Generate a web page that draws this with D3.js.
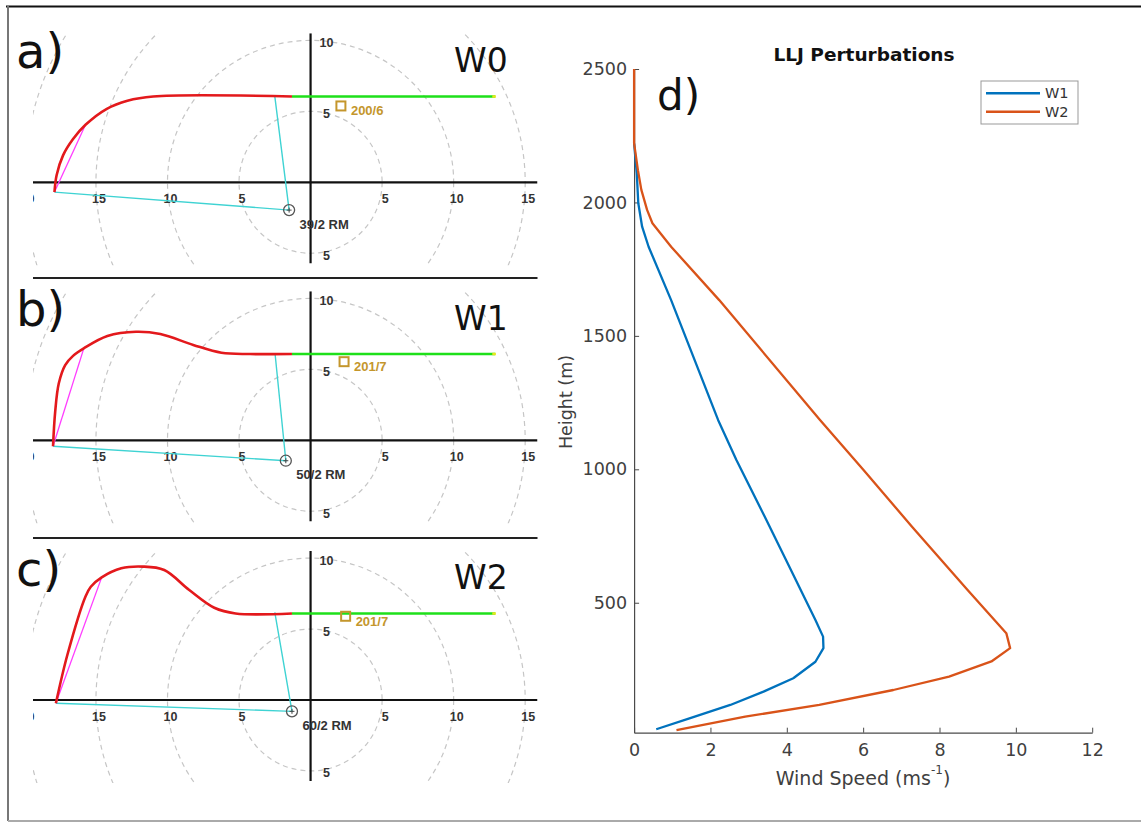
<!DOCTYPE html>
<html>
<head>
<meta charset="utf-8">
<script src="https://cdn.jsdelivr.net/npm/d3@7"></script>
<style>
body { margin: 0; background: #fff; }
svg { display: block; }
.hodo text { font-family: "Liberation Sans", Arial, sans-serif; font-weight: bold; }
.perfil text { font-family: "DejaVu Sans", sans-serif; }
</style>
</head>
<body>
<svg id="fig" width="1141" height="822"></svg>
<script>
// ---- hodografos (u, v en m/s) ----
const hodoNames = ['W0', 'W1', 'W2'];
const panelTags = ['a)', 'b)', 'c)'];
const rings = [5, 10, 15, 20, 25];
const xTicks = [-20, -15, -10, -5, 5, 10, 15];
const yTicks = [10, 5, -5];

const redW0 = [[-17.9,-0.69],[-17.75,0.5],[-17.3,1.9],[-16.6,3.05],[-15.73,4.05],[-14.24,5.18],[-12.8,5.75],[-11.0,6.05],[-1.3,6.05]];
const redW1 = [[-18.0,-0.42],[-17.85,2.0],[-17.6,4.0],[-17.15,5.3],[-16.6,5.95],[-15.85,6.48],[-14.2,7.35],[-12.2,7.65],[-10.5,7.49],[-8.2,6.72],[-6.23,6.17],[-4.23,6.08],[-1.3,6.08]];
const redW2 = [[-17.8,-0.23],[-17.0,3.17],[-15.73,7.3],[-15.36,7.98],[-14.6,8.64],[-13.23,9.28],[-11.73,9.4],[-10.23,9.16],[-8.48,7.75],[-6.73,6.5],[-5.24,6.1],[-1.3,6.1]];
const greenW0 = [[-1.3,6.05],[12.9,6.05]];
const greenW1 = [[-1.3,6.08],[12.9,6.08]];
const greenW2 = [[-1.3,6.1],[12.9,6.1]];
const magentaTop = [[-15.73,4.05],[-15.85,6.48],[-14.6,8.64]];
const cyanTop = [[-2.5,6.05],[-2.48,6.08],[-2.5,6.17]];
const rmMotion = [[-1.5,-1.96],[-1.73,-1.44],[-1.3,-0.8]];
const rmLabels = ['39/2 RM', '50/2 RM', '60/2 RM'];
const meanWind = [[2.12,5.38],[2.34,5.54],[2.45,5.9]];
const meanLabels = ['200/6', '201/7', '201/7'];

// ---- perfiles LLJ ----
const w1Speed  = [0, 0.07, 0.11, 0.21, 0.38, 0.97, 2.2, 2.68, 3.42, 3.98, 4.75, 4.95, 4.96, 4.75, 4.17, 3.39, 2.52, 1.45, 0.58];
const w1Height = [2221, 2109, 1997, 1909, 1834, 1634, 1185, 1035, 823, 660, 435, 373, 330, 279, 217, 167, 117, 67, 26];
const w2Speed  = [0, 0, 0.1, 0.19, 0.34, 0.48, 0.97, 2.23, 4.87, 6.01, 7.28, 8.73, 9.75, 9.85, 9.36, 8.25, 6.79, 4.85, 2.91, 1.11];
const w2Height = [2500, 2221, 2121, 2047, 1972, 1922, 1834, 1634, 1185, 997, 785, 549, 386, 330, 280, 223, 173, 117, 73, 23];
const speedTicks = [0, 2, 4, 6, 8, 10, 12];
const heightTicks = [500, 1000, 1500, 2000, 2500];
const serieNames = ['W1', 'W2'];

const svg = d3.select('#fig');
svg.append('rect').attr('width', 1141).attr('height', 822).attr('fill', '#fff');

// marco
svg.append('line').attr('x1', 6).attr('x2', 1141).attr('y1', 6.5).attr('y2', 6.5)
    .attr('stroke', '#111').attr('stroke-width', 2);
svg.append('line').attr('x1', 8).attr('x2', 8).attr('y1', 6).attr('y2', 821)
    .attr('stroke', '#777').attr('stroke-width', 2);
svg.append('line').attr('x1', 8).attr('x2', 1141).attr('y1', 821).attr('y2', 821)
    .attr('stroke', '#aaa').attr('stroke-width', 2);

const panelAxisY = [182.3, 440.3, 700];
const reds = [redW0, redW1, redW2];
const greens = [greenW0, greenW1, greenW2];

const hx = d3.scaleLinear().domain([-19.4, 15.86]).range([33, 537.5]);

function hodografo(i) {
    const y0 = panelAxisY[i];
    const hy = d3.scaleLinear().domain([-5.85, 10.5]).range([y0 + 83, y0 - 149]);
    const linea = d3.line().x(d => hx(d[0])).y(d => hy(d[1]));
    const suave = d3.line().x(d => hx(d[0])).y(d => hy(d[1])).curve(d3.curveCatmullRom.alpha(0.5));

    svg.append('clipPath').attr('id', 'clip' + i)
        .append('rect')
        .attr('x', 33).attr('y', y0 - 149).attr('width', 504.5).attr('height', 232);

    const g = svg.append('g').attr('class', 'hodo');
    const c = g.append('g').attr('clip-path', `url(#clip${i})`);

    c.selectAll('.anillo')
        .data(rings)
        .join('ellipse')
        .attr('class', 'anillo')
        .attr('cx', hx(0)).attr('cy', hy(0))
        .attr('rx', d => hx(d) - hx(0))
        .attr('ry', d => hy(0) - hy(d))
        .attr('fill', 'none')
        .attr('stroke', '#c6c6c6')
        .attr('stroke-width', 1.2)
        .attr('stroke-dasharray', '5,4');

    c.append('line')
        .attr('x1', 33).attr('x2', 537.5).attr('y1', hy(0)).attr('y2', hy(0))
        .attr('stroke', '#111').attr('stroke-width', 2.2);
    c.append('line')
        .attr('x1', hx(0)).attr('x2', hx(0)).attr('y1', y0 - 149).attr('y2', y0 + 81)
        .attr('stroke', '#111').attr('stroke-width', 2.2);

    c.selectAll('.xlab')
        .data(xTicks)
        .join('text')
        .attr('class', 'xlab')
        .attr('x', d => hx(d) + 3)
        .attr('y', hy(0) + 17)
        .attr('text-anchor', 'middle')
        .attr('dominant-baseline', 'central')
        .attr('font-size', 12.5)
        .attr('fill', '#333')
        .text(d => Math.abs(d));

    c.selectAll('.ylab')
        .data(yTicks)
        .join('text')
        .attr('class', 'ylab')
        .attr('x', hx(0) + 16)
        .attr('y', d => hy(d) + 2.5)
        .attr('text-anchor', 'middle')
        .attr('dominant-baseline', 'central')
        .attr('font-size', 12.5)
        .attr('fill', '#333')
        .text(d => Math.abs(d));

    const inicio = reds[i][0];

    // lineas de tormenta
    c.append('path')
        .attr('d', linea([inicio, rmMotion[i], cyanTop[i]]))
        .attr('fill', 'none').attr('stroke', '#3fd3d3').attr('stroke-width', 1.4);
    c.append('path')
        .attr('d', linea([inicio, magentaTop[i]]))
        .attr('fill', 'none').attr('stroke', '#ff3cff').attr('stroke-width', 1.3);

    c.append('path')
        .attr('d', suave(reds[i]))
        .attr('fill', 'none').attr('stroke', '#e3191c').attr('stroke-width', 2.6);
    c.append('path')
        .attr('d', linea(greens[i]))
        .attr('fill', 'none').attr('stroke', '#1ee01a').attr('stroke-width', 2.6);
    const fin = greens[i][1];
    c.append('path')
        .attr('d', linea([[fin[0] - 0.2, fin[1]], [fin[0] + 0.05, fin[1]]]))
        .attr('fill', 'none').attr('stroke', '#e8e81a').attr('stroke-width', 2.6);

    // movimiento RM
    const rm = rmMotion[i];
    c.append('circle')
        .attr('cx', hx(rm[0])).attr('cy', hy(rm[1])).attr('r', 5.5)
        .attr('fill', 'none').attr('stroke', '#555').attr('stroke-width', 1.3);
    c.append('path')
        .attr('d', `M${hx(rm[0]) - 2.5},${hy(rm[1])}h5M${hx(rm[0])},${hy(rm[1]) - 2.5}v5`)
        .attr('stroke', '#444').attr('stroke-width', 1);
    c.append('text')
        .attr('x', hx(rm[0]) + 10.5).attr('y', hy(rm[1]) + 14)
        .attr('dominant-baseline', 'central')
        .attr('font-size', 13).attr('fill', '#333')
        .text(rmLabels[i]);

    // viento medio
    const mw = meanWind[i];
    c.append('rect')
        .attr('x', hx(mw[0]) - 4.5).attr('y', hy(mw[1]) - 4.5)
        .attr('width', 9).attr('height', 9)
        .attr('fill', 'none').attr('stroke', '#c4962c').attr('stroke-width', 2);
    c.append('text')
        .attr('x', hx(mw[0]) + 10).attr('y', hy(mw[1]) + 5)
        .attr('dominant-baseline', 'central')
        .attr('font-size', 13).attr('fill', '#c4962c')
        .text(meanLabels[i]);

    // etiquetas de panel
    svg.append('text')
        .attr('x', 16).attr('y', y0 - 114)
        .attr('font-family', '"DejaVu Sans", sans-serif')
        .attr('font-size', 48).attr('fill', '#111')
        .text(panelTags[i]);
    svg.append('text')
        .attr('x', 454).attr('y', y0 - 110.6)
        .attr('font-family', '"DejaVu Sans", sans-serif')
        .attr('font-size', 33).attr('fill', '#111')
        .text(hodoNames[i]);
}

[0, 1, 2].forEach(hodografo);

// separadores
svg.selectAll('.sep')
    .data([278, 538])
    .join('line')
    .attr('class', 'sep')
    .attr('x1', 33).attr('x2', 537.5)
    .attr('y1', d => d).attr('y2', d => d)
    .attr('stroke', '#222').attr('stroke-width', 2);

///////////////////////////////////////

const px = d3.scaleLinear().domain([0, 12]).range([634.1, 1092.2]);
const py = d3.scaleLinear().domain([13, 2500]).range([732.7, 69]);
const colores = ['#0072BD', '#D95319'];

const perfil = svg.append('g').attr('class', 'perfil');

const ejeX = d3.axisBottom(px).tickValues(speedTicks).tickSizeInner(-5).tickSizeOuter(0).tickPadding(11);
const ejeY = d3.axisLeft(py).tickValues(heightTicks).tickFormat(d3.format('d'))
    .tickSizeInner(-5).tickSizeOuter(0).tickPadding(7);

const gx = perfil.append('g').attr('transform', `translate(0,${py(13)})`).call(ejeX);
const gy = perfil.append('g').attr('transform', `translate(${px(0)},0)`).call(ejeY);

[gx, gy].forEach(ax => {
    ax.select('.domain').attr('stroke', '#4a4a4a').attr('stroke-width', 1.2);
    ax.selectAll('.tick line').attr('stroke', '#4a4a4a').attr('stroke-width', 1);
    ax.selectAll('.tick text')
        .attr('fill', '#404040')
        .attr('font-family', '"DejaVu Sans", sans-serif')
        .attr('font-size', 17.5);
});

const series = [
    w1Speed.map((s, k) => [s, w1Height[k]]),
    w2Speed.map((s, k) => [s, w2Height[k]])
];
const lineaPerfil = d3.line().x(d => px(d[0])).y(d => py(d[1]));

perfil.selectAll('.serie')
    .data(series)
    .join('path')
    .attr('class', 'serie')
    .attr('d', lineaPerfil)
    .attr('fill', 'none')
    .attr('stroke', (d, k) => colores[k])
    .attr('stroke-width', 2.3)
    .attr('stroke-linejoin', 'round');

perfil.append('text')
    .attr('x', 864).attr('y', 54)
    .attr('text-anchor', 'middle').attr('dominant-baseline', 'central')
    .attr('font-size', 18.5).attr('font-weight', 'bold').attr('fill', '#111')
    .text('LLJ Perturbations');

const etiquetaX = perfil.append('text')
    .attr('x', 863).attr('y', 778)
    .attr('text-anchor', 'middle').attr('dominant-baseline', 'central')
    .attr('font-size', 19).attr('fill', '#404040');
etiquetaX.append('tspan').text('Wind Speed (ms');
etiquetaX.append('tspan').attr('font-size', 12).attr('dy', -8).text('-1');
etiquetaX.append('tspan').attr('dy', 8).text(')');

perfil.append('text')
    .attr('transform', 'translate(566,402) rotate(-90)')
    .attr('text-anchor', 'middle').attr('dominant-baseline', 'central')
    .attr('font-size', 17.5).attr('fill', '#404040')
    .text('Height (m)');

perfil.append('text')
    .attr('x', 657).attr('y', 110)
    .attr('font-size', 42).attr('fill', '#111')
    .text('d)');

// leyenda
const ley = perfil.append('g');
ley.append('rect')
    .attr('x', 981).attr('y', 81).attr('width', 97).attr('height', 43)
    .attr('fill', '#fff').attr('stroke', '#999').attr('stroke-width', 1);
ley.selectAll('.item')
    .data(serieNames)
    .join('line')
    .attr('class', 'item')
    .attr('x1', 986).attr('x2', 1040)
    .attr('y1', (d, k) => 93.3 + k * 18.4).attr('y2', (d, k) => 93.3 + k * 18.4)
    .attr('stroke', (d, k) => colores[k]).attr('stroke-width', 2.6);
ley.selectAll('.itemtxt')
    .data(serieNames)
    .join('text')
    .attr('class', 'itemtxt')
    .attr('x', 1045).attr('y', (d, k) => 93.3 + k * 18.4)
    .attr('dominant-baseline', 'central')
    .attr('font-size', 14.5).attr('fill', '#333')
    .text(d => d);
</script>
</body>
</html>
